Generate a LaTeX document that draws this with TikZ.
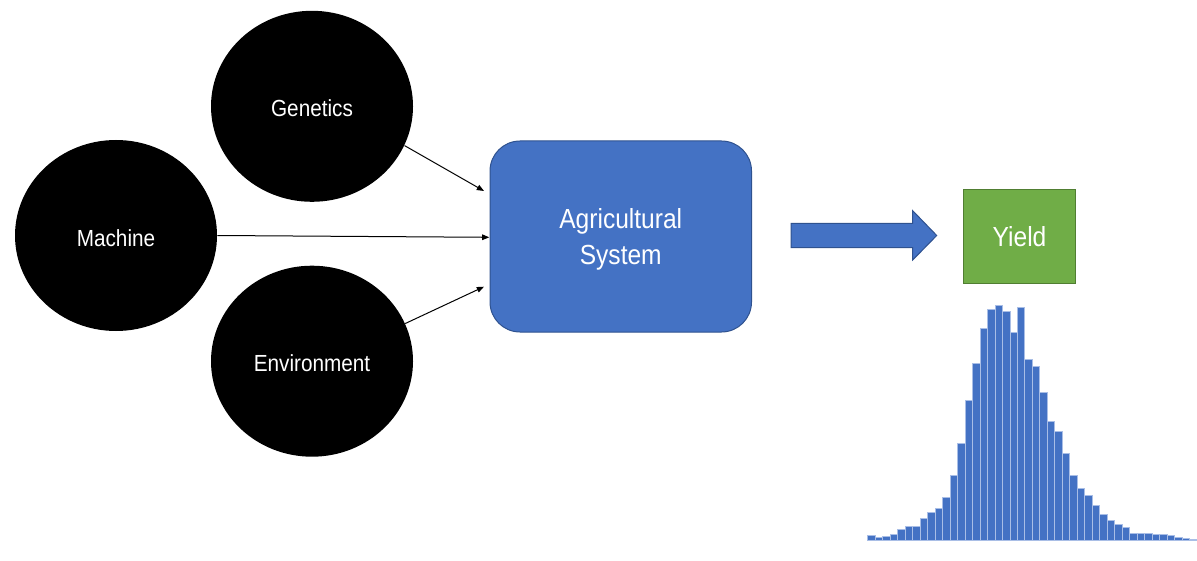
\documentclass[tikz,border=0pt]{standalone}
\usepackage{fontspec}
\setmainfont{Liberation Sans}[FakeStretch=0.89]
\usepackage{xcolor}
\usepackage{tikz}
\usetikzlibrary{positioning,shapes.geometric,arrows.meta}
\definecolor{sysblue}{HTML}{4472C4}
\definecolor{sysedge}{HTML}{2F528F}
\definecolor{yieldgreen}{HTML}{70AD47}
\definecolor{yieldedge}{HTML}{507E32}
\definecolor{barline}{HTML}{A9BEE6}

\begin{document}
\begin{tikzpicture}[x=0.5pt, y=-0.5pt, >={Triangle[length=3.6pt,width=2.8pt]},
  every factor/.style={ellipse, fill=black, minimum width=101pt, minimum height=95.5pt,
    inner sep=0pt, text=white, text height=10.5pt, text depth=0pt,
    font=\fontsize{11.65}{14}\selectfont},
  every box/.style={minimum width=130.75pt, minimum height=95.5pt, text=white,
    align=center, line width=0.5pt, font=\fontsize{13.8}{18}\selectfont},
  system/.style={every box, draw=sysedge, fill=sysblue, rounded corners=15pt, text depth=0pt},
  yield/.style={every box, draw=yieldedge, fill=yieldgreen, minimum width=56.2pt, minimum height=47pt},
  link/.style={->, line width=0.5pt},
  bar/.style={fill=sysblue, draw=barline, line width=0.3pt}]

\useasboundingbox (0,0) rectangle (1197,561);

\node [every factor] (genetics) at (312,106.3) {Genetics};
\node [every factor] (machine) at (116,235.5) {Machine};
\node [every factor] (environment) at (312,361.2) {Environment};

\node [system] (agri) at (620.75,236.5) {Agricultural\\System};
\node [yield] (yield) at (1019.5,236.3) {Yield};

\coordinate (genetics-in) at (484,191);
\coordinate (machine-in) at (489.3,237.3);
\coordinate (environment-in) at (484,286.7);

\draw [link] (genetics.-23.5) -- (genetics-in);
\draw [link] (machine.east) -- (machine-in);
\draw [link] (environment.22) -- (environment-in);

% block arrow between system and yield
\filldraw [fill=sysblue, draw=sysedge, line width=0.5pt]
  (791,223.3) -- (912.7,223.3) -- (912.7,210.7) -- (936.7,235.5)
  -- (912.7,260) -- (912.7,247.7) -- (791,247.7) -- cycle;

% yield distribution
\foreach \h [count=\i] in {5.7,3.3,4.7,6.3,11.7,14.3,14.3,22.3,28,32.7,43.7,65.3,97.3,
    140.3,177.3,212.3,231.3,235,229.7,208,233.3,181.3,174.7,148.3,119.7,109.7,87.7,65,
    52.7,45.3,35.7,26.3,20.7,16.3,13.7,7.3,7,7.3,6,6,5.3,3.3,2,1.7}
  \filldraw [bar] ({867.7+(\i-1)*7.48},540.7) rectangle ++(7.48,-\h);
\end{tikzpicture}
\end{document}
